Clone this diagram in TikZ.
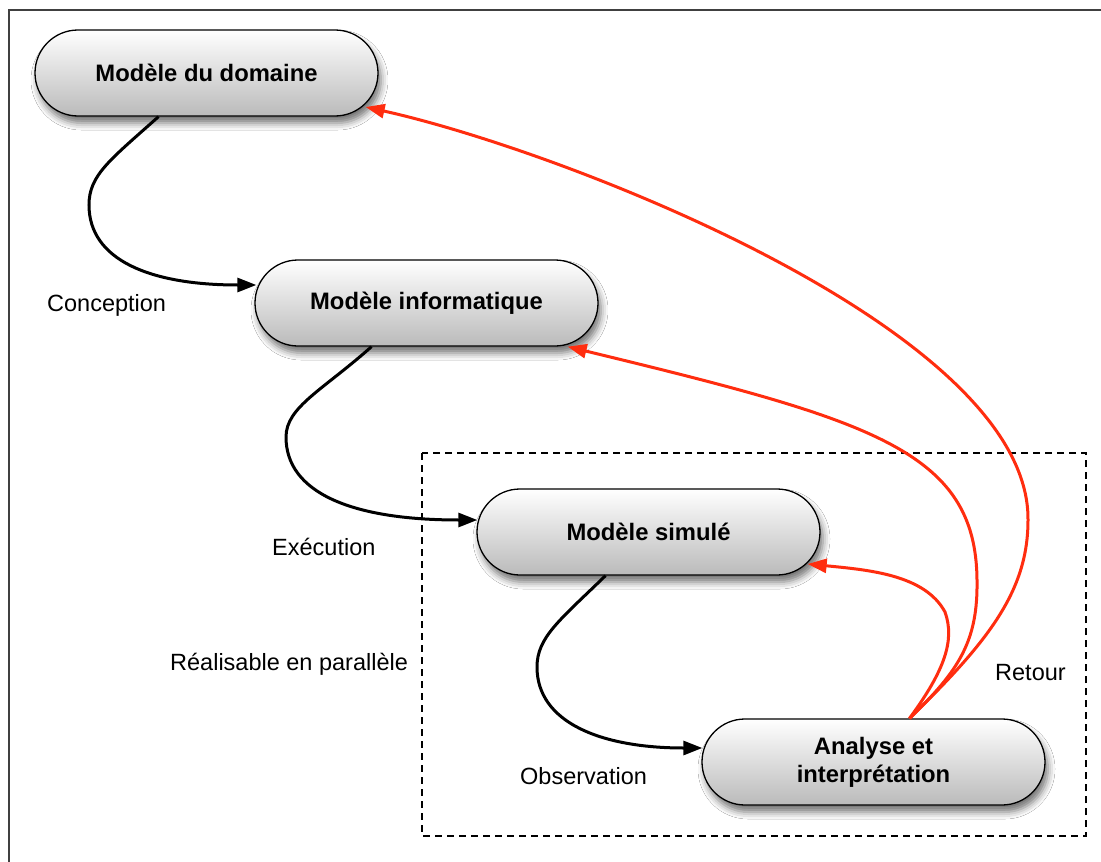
\documentclass[tikz,border=0pt]{standalone}
\usepackage{fontspec}
\setmainfont{Liberation Sans}
\usetikzlibrary{arrows.meta,calc,shadows.blur}
\definecolor{redline}{RGB}{255,45,15}
\begin{document}
\begin{tikzpicture}[x=1pt,y=-1pt,
  box/.style={draw=black, line width=1.3pt, rounded corners=43pt,
    minimum width=343pt, minimum height=86pt,
    top color=white, bottom color=black!27,
    font=\fontsize{23.8}{28}\selectfont\bfseries, align=center, inner sep=0pt,
    blur shadow={shadow xshift=3pt, shadow yshift=-7pt, shadow blur radius=7pt, shadow opacity=55}},
  lbl/.style={font=\fontsize{23.5}{28}\selectfont, anchor=base west, inner sep=0pt},
  flow/.style={line width=3pt, -{Triangle[length=19pt,width=14pt]}},
  back/.style={flow, draw=redline, -{Triangle[length=19pt,width=14pt,fill=redline]}},
]
\useasboundingbox (0,0) rectangle (1101,862);
\fill[white] (0,0) rectangle (1101,862);
\draw[line width=1.5pt, black!75] (9,10) rectangle (1130,890);
\draw[line width=1.2pt, dash pattern=on 7pt off 5pt] (422,453) rectangle (1086,836);

\node[box] (dom) at (206.5,73) {Modèle du domaine};
\node[box] (info) at (426.5,303) {Modèle informatique};
\node[box] (sim) at (648.5,532) {Modèle simulé};
\node[box] (ana) at (873.5,762) {Analyse et\\interprétation};

\node[lbl] (lc) at (47,311) {Conception};
\node[lbl] (le) at (272,555) {Exécution};
\node[lbl] (lr) at (170,670) {Réalisable en parallèle};
\node[lbl] (lo) at (520,784) {Observation};
\node[lbl] (lt) at (995,680) {Retour};

\draw[flow] ($(dom.south)+(-48,0)$) .. controls (110,160) and (89,175) .. (89,205)
  .. controls (89,260) and (150,285) .. ($(info.west)+(2,-18)$);
\draw[flow] ($(info.south)+(-55,0)$) .. controls (323,390) and (286,407) .. (286,437)
  .. controls (286,492) and (350,520) .. ($(sim.west)+(1,-12)$);
\draw[flow] ($(sim.south)+(-43,0)$) .. controls (560,620) and (537,637) .. (537,667)
  .. controls (537,722) and (600,748) .. ($(ana.west)+(1,-14)$);

\draw[back] ($(ana.north)+(36,0)$) .. controls (990,640) and (1028,590) .. (1028,520)
  .. controls (1030,330) and (560,150) .. ($(dom.east)+(-13,34)$);
\draw[back] ($(ana.north)+(36,0)$) .. controls (960,670) and (978,640) .. (977,580)
  .. controls (976,450) and (870,420) .. ($(info.south east)+(-31,0)$);
\draw[back] ($(ana.north)+(36,0)$) .. controls (945,670) and (955,640) .. (945,612)
  .. controls (925,575) and (870,570) .. ($(sim.east)+(-13,32)$);
\end{tikzpicture}
\end{document}
